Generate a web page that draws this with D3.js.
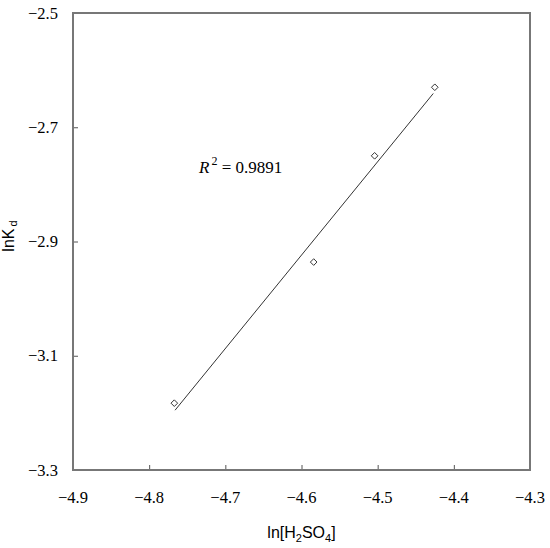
<!DOCTYPE html>
<html lang="en">
<head>
    <meta charset="utf-8" />
    <title></title>
    <style>
        body { margin: 0; background: white; }
    </style>
    <script src="https://d3js.org/d3.v7.min.js"></script>
</head>
<body>
    <svg id="vis" width="550" height="548"></svg>
    <script type="text/javascript">
        // values
        var lnAcid = [-4.767, -4.584, -4.504, -4.425];
        var lnKd = [-3.183, -2.936, -2.750, -2.630];
        var xTicks = [-4.9, -4.8, -4.7, -4.6, -4.5, -4.4, -4.3];
        var yTicks = [-2.5, -2.7, -2.9, -3.1, -3.3];
        var r2Label = "0.9891";

        var margin = { top: 13, left: 73, bottom: 78, right: 20 };
        var width = 550, height = 548;
        var serif = "'Liberation Serif', 'Times New Roman', serif";
        var sans = "'Liberation Sans', Arial, sans-serif";

        var svg = d3.select("#vis");

        var x = d3.scaleLinear().domain([-4.9, -4.3]).range([margin.left, width - margin.right]);
        var y = d3.scaleLinear().domain([-3.3, -2.5]).range([height - margin.bottom, margin.top]);

        var fmt = function (d) { return d3.format(".1f")(d).replace("-", "\u2212"); };

        // x axis (ticks pointing inward)
        var xAxis = svg.append("g").attr("transform", "translate(0," + y(-3.3) + ")")
            .call(d3.axisBottom(x).tickValues(xTicks).tickSize(-5).tickFormat(""));
        xAxis.select(".domain").remove();
        xAxis.selectAll(".tick line").attr("stroke", "#555");

        svg.append("g").selectAll("text").data(xTicks).enter().append("text")
            .attr("x", function (d) { return x(d); })
            .attr("y", y(-3.3) + 33)
            .attr("text-anchor", "middle")
            .style("font-family", serif).style("font-size", "16.5px")
            .text(fmt);

        var yAxis = svg.append("g").attr("transform", "translate(" + x(-4.9) + ",0)")
            .call(d3.axisLeft(y).tickValues(yTicks).tickSize(-5).tickFormat(""));
        yAxis.select(".domain").remove();
        yAxis.selectAll(".tick line").attr("stroke", "#555");

        svg.append("g").selectAll("text").data(yTicks).enter().append("text")
            .attr("x", x(-4.9) - 15)
            .attr("y", function (d) { return y(d) + 5.5; })
            .attr("text-anchor", "end")
            .style("font-family", serif).style("font-size", "16.5px")
            .text(fmt);

        // frame
        svg.append("rect")
            .attr("x", x(-4.9)).attr("y", y(-2.5))
            .attr("width", x(-4.3) - x(-4.9)).attr("height", y(-3.3) - y(-2.5))
            .attr("fill", "none").attr("stroke", "#777").attr("stroke-width", 2);

        // least squares trend line
        var mx = d3.mean(lnAcid), my = d3.mean(lnKd);
        var sxy = d3.sum(lnAcid, function (d, i) { return (d - mx) * (lnKd[i] - my); });
        var sxx = d3.sum(lnAcid, function (d) { return (d - mx) * (d - mx); });
        var slope = sxy / sxx, icpt = my - slope * mx;
        var x0 = d3.min(lnAcid) + 0.001, x1 = d3.max(lnAcid) - 0.002;

        svg.append("line")
            .attr("x1", x(x0)).attr("y1", y(icpt + slope * x0))
            .attr("x2", x(x1)).attr("y2", y(icpt + slope * x1))
            .attr("stroke", "#333").attr("stroke-width", 1);

        // points
        svg.append("g").selectAll("path").data(lnAcid).enter().append("path")
            .attr("d", d3.symbol().type(d3.symbolDiamond2).size(28))
            .attr("transform", function (d, i) { return "translate(" + x(d) + "," + y(lnKd[i]) + ")"; })
            .attr("fill", "white").attr("stroke", "#333").attr("stroke-width", 1);

        // R^2 label
        var r2 = svg.append("text").attr("x", x(-4.9) + 126).attr("y", y(-2.5) + 160)
            .style("font-family", serif).style("font-size", "17px");
        r2.append("tspan").attr("font-style", "italic").text("R");
        r2.append("tspan").attr("dy", -8).attr("font-size", 12).attr("dx", 2).text("2");
        r2.append("tspan").attr("dy", 8).text(" = " + r2Label);

        // axis titles
        var xt = svg.append("text")
            .style("font-family", sans).style("font-size", "16px")
            .attr("x", (x(-4.9) + x(-4.3)) / 2).attr("y", 538).attr("text-anchor", "middle");
        xt.append("tspan").text("ln[H");
        xt.append("tspan").attr("font-size", 11).attr("dy", 4).text("2");
        xt.append("tspan").attr("dy", -4).text("SO");
        xt.append("tspan").attr("font-size", 11).attr("dy", 4).text("4");
        xt.append("tspan").attr("dy", -4).text("]");

        var yt = svg.append("text")
            .style("font-family", sans).style("font-size", "16px")
            .attr("transform", "translate(14,236) rotate(-90)")
            .attr("text-anchor", "middle");
        yt.append("tspan").text("lnK");
        yt.append("tspan").attr("font-size", 11).attr("dy", 3).attr("dx", 2).text("d");
    </script>
</body>
</html>
